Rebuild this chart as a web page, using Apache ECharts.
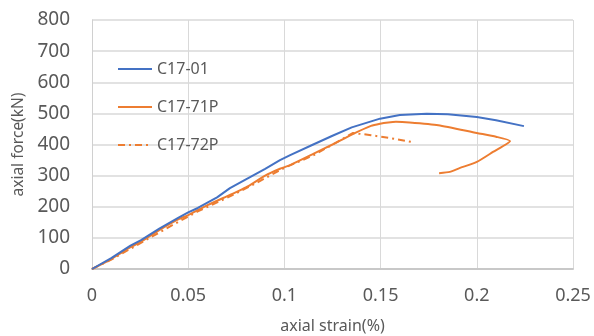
<!DOCTYPE html>
<html>
<head>
<meta charset="utf-8">
<script src="https://cdn.jsdelivr.net/npm/echarts@6/dist/echarts.min.js"></script>
<style>
    html, body { margin: 0; padding: 0; background: #fff; }
    #chart { width: 594px; height: 336px; }
</style>
</head>
<body>
<div id="chart"></div>
<script>
    // C17-01
    var strain01 = [0, 0.01, 0.02, 0.0255, 0.035, 0.045, 0.05, 0.055, 0.065, 0.0717, 0.08, 0.09, 0.0977, 0.103, 0.115, 0.125, 0.135, 0.1497, 0.16, 0.174, 0.185, 0.2, 0.21, 0.2245];
    var force01 = [0, 35, 75, 93, 130, 165, 182, 196, 230, 260, 288, 322, 350, 366, 400, 428, 455, 483, 495, 499, 497, 488, 478, 459];
    // C17-71P
    var strain71 = [0, 0.01, 0.02, 0.0255, 0.035, 0.045, 0.05, 0.06, 0.0717, 0.08, 0.09, 0.0977, 0.103, 0.115, 0.125, 0.135, 0.145, 0.1497, 0.154, 0.158, 0.165, 0.18, 0.2, 0.21, 0.2173, 0.2084, 0.2, 0.191, 0.186, 0.1804];
    var force71 = [0, 32, 70, 88, 125, 160, 173, 205, 238, 262, 300, 322, 334, 370, 400, 432, 460, 467, 471, 473, 471, 462, 437, 425, 411, 376, 344, 324, 312, 308];
    // C17-72P
    var strain72 = [0, 0.01, 0.02, 0.03, 0.045, 0.055, 0.07, 0.085, 0.1, 0.115, 0.128, 0.1357, 0.145, 0.1575, 0.1663];
    var force72 = [0, 30, 65, 100, 152, 185, 228, 275, 325, 365, 410, 437, 430, 418, 408];

    var xTicks = [0, 0.05, 0.1, 0.15, 0.2, 0.25];
    var yTicks = [0, 100, 200, 300, 400, 500, 600, 700, 800];

    function pairs(xs, ys) {
        return xs.map(function (x, i) { return [x, ys[i]]; });
    }

    var chart = echarts.init(document.getElementById('chart'));
    var textColor = '#595959';
    var font = 'Noto Sans';

    chart.setOption({
        animation: false,
        grid: { left: 92, right: 21, top: 20, bottom: 67, outerBoundsMode: 'none' },
        legend: {
            orient: 'vertical',
            left: 112,
            top: 56,
            itemWidth: 34,
            itemHeight: 14,
            itemGap: 22,
            itemStyle: { opacity: 0 },
            textStyle: { color: textColor, fontSize: 16, fontFamily: font },
            data: ['C17-01', 'C17-71P', 'C17-72P']
        },
        xAxis: {
            type: 'value',
            min: xTicks[0],
            max: xTicks[xTicks.length - 1],
            interval: 0.05,
            name: 'axial strain(%)',
            nameLocation: 'middle',
            nameGap: 49,
            nameTextStyle: { color: textColor, fontSize: 16, fontFamily: font },
            axisLine: { show: true, lineStyle: { color: '#c8c8c8', width: 2 } },
            axisTick: { show: false },
            axisLabel: { color: textColor, fontSize: 18, fontFamily: font, margin: 18 },
            splitLine: { show: true, lineStyle: { color: '#d9d9d9', width: 1 } }
        },
        yAxis: {
            type: 'value',
            min: yTicks[0],
            max: yTicks[yTicks.length - 1],
            interval: 100,
            name: 'axial force(kN)',
            nameLocation: 'middle',
            nameGap: 63,
            nameTextStyle: { color: textColor, fontSize: 15.5, fontFamily: font },
            axisLine: { show: true, lineStyle: { color: '#d0d0d0', width: 1 } },
            axisTick: { show: false },
            axisLabel: { color: textColor, fontSize: 19, fontFamily: font, margin: 22 },
            splitLine: { show: true, lineStyle: { color: '#d9d9d9', width: 1.5 } }
        },
        series: [
            {
                name: 'C17-01',
                type: 'line',
                symbol: 'none',
                data: pairs(strain01, force01),
                lineStyle: { color: '#4472C4', width: 2 },
                itemStyle: { color: '#4472C4' },
                z: 3
            },
            {
                name: 'C17-71P',
                type: 'line',
                symbol: 'none',
                smooth: 0.2,
                data: pairs(strain71, force71),
                lineStyle: { color: '#ED7D31', width: 2 },
                itemStyle: { color: '#ED7D31' },
                z: 2
            },
            {
                name: 'C17-72P',
                type: 'line',
                symbol: 'none',
                data: pairs(strain72, force72),
                lineStyle: { color: '#ED7D31', width: 2, type: [7, 4, 2, 4] },
                itemStyle: { color: '#ED7D31' },
                z: 2
            }
        ]
    });
</script>
</body>
</html>
